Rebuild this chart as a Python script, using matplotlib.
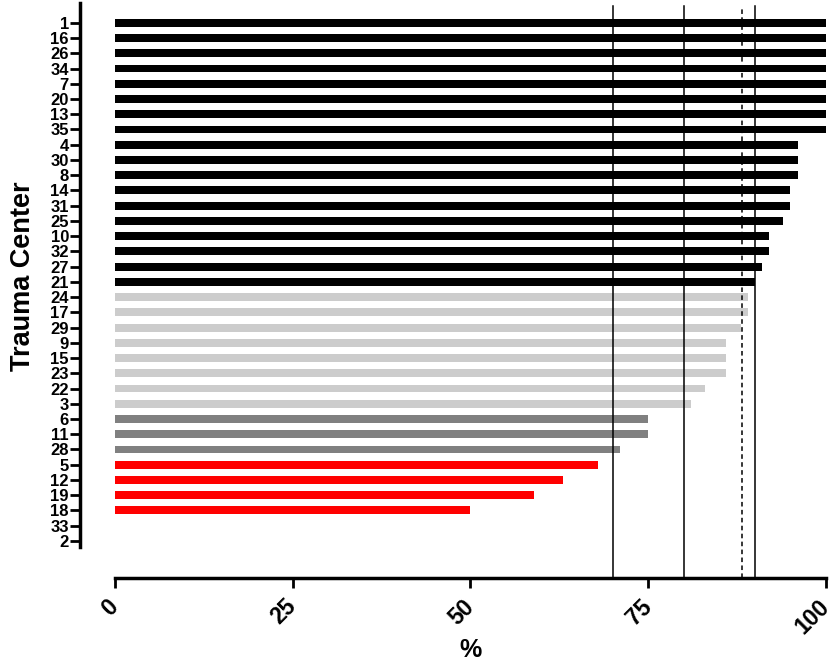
import matplotlib
matplotlib.use("Agg")
import matplotlib.pyplot as plt

plt.rcParams['font.family'] = ['Liberation Sans', 'DejaVu Sans']
plt.rcParams['font.weight'] = 'bold'

centers = ['1', '16', '26', '34', '7', '20', '13', '35', '4', '30', '8', '14', '31', '25',
           '10', '32', '27', '21', '24', '17', '29', '9', '15', '23', '22', '3', '6', '11',
           '28', '5', '12', '19', '18', '33', '2']
values = [100, 100, 100, 100, 100, 100, 100, 100, 96, 96, 96, 95, 95, 94,
          92, 92, 91, 90, 89, 89, 88, 86, 86, 86, 83, 81, 75, 75,
          71, 68, 63, 59, 50, 0, 0]
xticks = [0, 25, 50, 75, 100]
solid_lines = [70, 80, 90]
dashed_line = 88.2


def bar_color(v):
    if v >= 90:
        return 'black'
    if v >= 80:
        return '#cccccc'
    if v >= 70:
        return '#808080'
    return '#ff0000'


fig = plt.figure(figsize=(8.34, 6.69), dpi=100)
ax = fig.add_axes([80 / 834, 1 - 547 / 669, (826 - 80) / 834, 544 / 669])

# spines first (set_position resets tick props)
for s in ['top', 'right']:
    ax.spines[s].set_visible(False)
ax.spines['left'].set_linewidth(2.5)
ax.spines['bottom'].set_linewidth(2.5)
ax.spines['bottom'].set_position(('outward', 31 * 0.72))
ax.spines['bottom'].set_bounds(0, 100)

ypos = list(range(len(centers)))
ax.barh(ypos, values, height=0.52, color=[bar_color(v) for v in values], zorder=2)

ext = -31 / 544
for xv in solid_lines:
    ax.axvline(xv, ymin=ext, ymax=0.995, color='black', lw=1.1, clip_on=False, zorder=3)
ax.axvline(dashed_line, ymin=ext, ymax=0.995, color='black', lw=1.1, ls=(0, (3, 2.2)),
           clip_on=False, zorder=3)

ax.set_xlim(-4.9, 100)
ax.set_ylim(len(centers) - 1 + 0.4, -1.3)

ax.set_yticks(ypos)
ax.set_yticklabels(centers, fontsize=12, fontweight='bold')
ax.set_xticks(xticks)
ax.set_xticklabels([str(t) for t in xticks], fontsize=16.5, fontweight='bold',
                   rotation=45, ha='right', va='center', rotation_mode='anchor')

ax.tick_params(axis='y', length=7, width=2, pad=1)
ax.tick_params(axis='x', length=7, width=2, pad=11)

ax.set_ylabel('Trauma Center', fontsize=19.5, fontweight='bold')
ax.yaxis.set_label_coords(-0.059, 0.497)
ax.set_xlabel('%', fontsize=18, fontweight='bold')
ax.xaxis.set_label_coords(0.523, -0.167)

fig.savefig('out.png', dpi=100)
